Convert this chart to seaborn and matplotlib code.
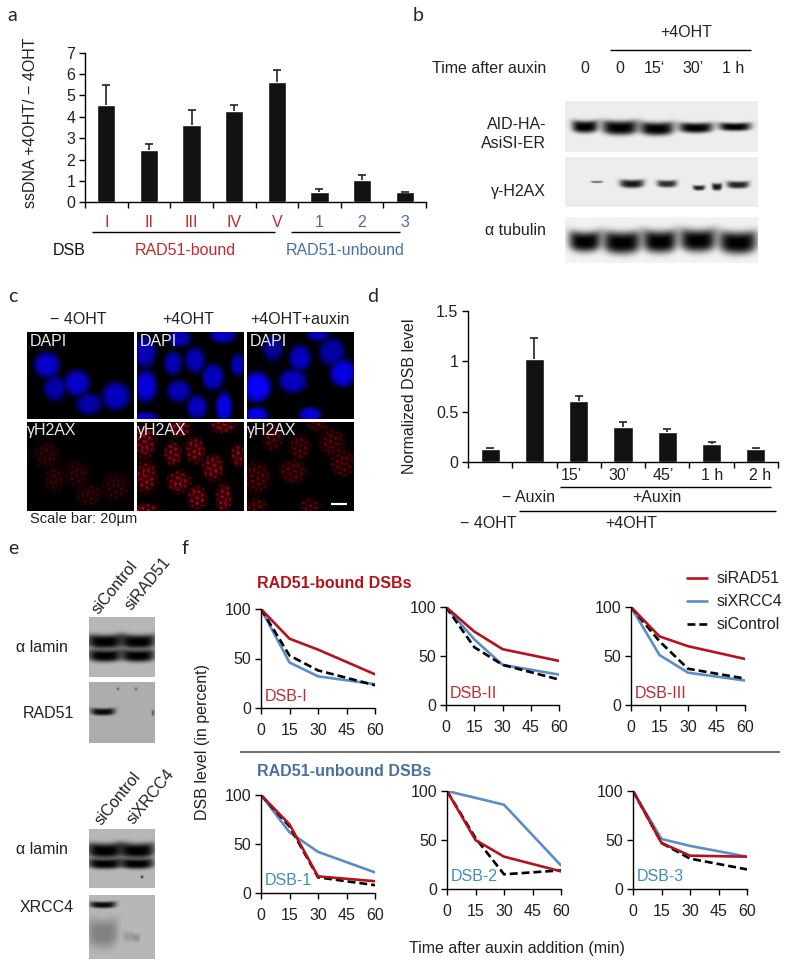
import numpy as np
import pandas as pd
import seaborn as sns
import matplotlib
from matplotlib import pyplot as plt
from matplotlib.lines import Line2D
matplotlib.use('Agg')

sns.set_theme(style="ticks")
plt.rcParams['font.family'] = ['Liberation Sans', 'DejaVu Sans']
plt.rcParams['font.size'] = 11.5

# panel a
a_cats = ["I", "II", "III", "IV", "V", "1", "2", "3"]
a_vals = [4.55, 2.45, 3.6, 4.25, 5.65, 0.5, 1.05, 0.5]
a_err = [0.95, 0.3, 0.7, 0.32, 0.55, 0.1, 0.25, 0.0]
# panel d
d_cats = ["- 4OHT", "- Auxin", "15", "30", "45", "1 h", "2 h"]
d_vals = [0.13, 1.02, 0.61, 0.35, 0.30, 0.18, 0.13]
d_err = [0.01, 0.21, 0.05, 0.05, 0.03, 0.02, 0.01]
# panel f
f_time = [0, 15, 30, 60]
f_rad51 = {"DSB-I": [100, 70, 59, 34], "DSB-II": [100, 75, 57, 45], "DSB-III": [100, 70, 60, 47],
           "DSB-1": [100, 70, 17, 12], "DSB-2": [100, 50, 33, 18], "DSB-3": [100, 47, 34, 33]}
f_xrcc4 = {"DSB-I": [100, 46, 32, 24], "DSB-II": [100, 67, 41, 31], "DSB-III": [100, 51, 33, 25],
           "DSB-1": [100, 62, 42, 21], "DSB-2": [100, 93, 86, 24], "DSB-3": [100, 51, 44, 33]}
f_control = {"DSB-I": [100, 53, 38, 23], "DSB-II": [100, 59, 41, 26], "DSB-III": [100, 65, 37, 27],
             "DSB-1": [100, 68, 16, 8], "DSB-2": [100, 52, 15, 19], "DSB-3": [100, 47, 31, 20]}

RED = "#B5121B"
LABEL_RED = "#C22A32"
BLUE = "#5B8DC9"
STEEL = "#4A6FA5"
BAR = "#111111"

fig = plt.figure(figsize=(8, 9.69), dpi=100)
ov = fig.add_axes([0, 0, 1, 1], zorder=0)


def px_ax(x0, y0, x1, y1):
    ax = fig.add_axes([x0 / 800, 1 - y1 / 969, (x1 - x0) / 800, (y1 - y0) / 969], zorder=1)
    ax.patch.set_alpha(0)
    return ax


def txt(x, y, s, ha="left", **kw):
    ov.text(x, y, s, ha=ha, va="center", **kw)


def rule(x0, x1, y, color="black", lw=1.0):
    ov.plot([x0, x1], [y, y], color=color, lw=lw, solid_capstyle="butt")


def grid(box):
    x0, x1, y0, y1 = box
    return np.meshgrid(np.arange(x0, x1) + 0.5, np.arange(y0, y1) + 0.5)


def blot(box, bg, bands):
    xx, yy = grid(box)
    arr = np.full(xx.shape, bg, dtype=float)
    for cx, cy, rx, ry, s in bands:
        dx = (xx - cx) / rx
        dy = (yy - cy + 0.25 * ry * dx ** 2) / ry
        arr *= 1 - s * np.exp(-np.abs(dx) ** 4) * np.exp(-np.abs(dy) ** 3)
    ov.imshow(arr, cmap="gray", vmin=0, vmax=1, extent=(box[0], box[1], box[3], box[2]), aspect="auto")


def cells(box, nuclei, channel):
    xx, yy = grid(box)
    val = np.zeros(xx.shape)
    for cx, cy, rx, ry, b in nuclei:
        d = ((xx - cx) / (rx + 1)) ** 2 + ((yy - cy) / (ry + 1)) ** 2
        val = np.maximum(val, b * np.exp(-d ** 2.5))
    rgb = np.zeros(xx.shape + (3,))
    if channel == "blue":
        rgb[..., 2] = val
        rgb[..., 0] = 0.03 * val
    else:
        tex = (np.sin(0.83 * xx + 0.37 * yy) * np.sin(0.71 * yy - 0.29 * xx)
               + 0.6 * np.sin(0.47 * xx - 1.13 * yy) + 0.5 * np.sin(1.31 * xx + 0.19 * yy))
        tex = np.clip(tex, 0, 1) ** 1.5
        rgb[..., 0] = val * (0.2 + 0.5 * tex)
        rgb[..., 2] = 0.15 * rgb[..., 0]
    ov.imshow(rgb, extent=(box[0], box[1], box[3], box[2]), aspect="auto")


def bars(ax, cats, vals, err):
    sns.barplot(x=cats, y=vals, color=BAR, saturation=1, width=0.43, ax=ax, order=cats)
    top = np.array(vals) + np.array(err)
    ax.vlines(range(len(cats)), vals, top, color="#222222", lw=1.2)
    ax.plot(range(len(cats)), top, ls="", marker="_", ms=6, mew=1.2, color="#222222")
    ax.set_xlim(-0.5, len(cats) - 0.5)
    ax.set_xticks(np.arange(len(cats) + 1) - 0.5, minor=True)
    ax.tick_params(axis="x", which="minor", length=4, width=1, color="black")
    ax.tick_params(axis="y", length=4, width=1, color="black", labelsize=11.5, labelcolor="#222222", pad=3)
    sns.despine(ax=ax)
    for s in ["left", "bottom"]:
        ax.spines[s].set_color("black")
        ax.spines[s].set_linewidth(1)


# a
txt(7, 15, "a", family="Lato", fontsize=14)
ax = px_ax(85, 52.7, 426, 202.3)
bars(ax, a_cats, a_vals, a_err)
ax.set_ylim(0, 7)
ax.set_yticks(range(8))
ax.tick_params(axis="x", which="major", length=0, pad=9, labelsize=11.5)
for i, lab in enumerate(ax.get_xticklabels()):
    lab.set_color(LABEL_RED if i < 5 else STEEL)
txt(31, 123, "ssDNA +4OHT/ \u2212 4OHT", ha="center", rotation=90, color="#222222")
txt(53, 250, "DSB", color="#111111")
txt(185, 250, "RAD51-bound", ha="center", color=LABEL_RED)
txt(345, 250, "RAD51-unbound", ha="center", color=STEEL)
rule(92, 275, 232)
rule(291, 400, 232)

# b
txt(413, 15, "b", family="Lato", fontsize=14)
txt(686, 32, "+4OHT", ha="center", color="#222222")
rule(610, 751, 50)
txt(546, 68, "Time after auxin", ha="right", color="#222222")
for x, s in zip([585, 620, 654, 693, 733], ["0", "0", "15\u2018", "30\u2019", "1 h"]):
    txt(x, 68, s, ha="center", color="#222222")
for y, s in zip([124, 143, 191, 230], ["AID-HA-", "AsiSI-ER", "\u03b3-H2AX", "\u03b1 tubulin"]):
    txt(546, y, s, ha="right", color="#222222")
blot((565, 758, 101, 152), 0.93, [(585, 127, 13, 6, 1), (620, 128, 18, 7, 1), (657, 129, 17, 6.5, 1),
                                  (696, 128, 17, 5, 1), (735, 127, 16, 4, 1)])
blot((565, 758, 157, 207), 0.93, [(597, 182, 6, 1.2, 0.5), (632, 184, 12, 4, 0.9), (667, 184, 10, 3.5, 0.8),
                                  (699, 188, 6, 2.5, 0.85), (717, 187, 5, 3.5, 0.9), (738, 185, 11, 3.5, 0.85)])
blot((565, 758, 217, 263), 0.95, [(585, 242, 16, 10, 1), (622, 243, 19, 11, 1), (660, 242, 17, 11, 1),
                                  (698, 241, 18, 11, 1), (738, 243, 19, 11, 1)])

# c
txt(8, 296, "c", family="Lato", fontsize=14)
txt(78, 319, "\u2212 4OHT", ha="center", color="#222222")
txt(188, 319, "+4OHT", ha="center", color="#222222")
txt(300, 319, "+4OHT+auxin", ha="center", color="#222222")
col_boxes = [(27, 134), (137, 244), (247, 354)]
col_nuclei = [
    [(47, 365, 12, 12, .8), (55, 388, 10, 12, .65), (77, 383, 12, 12, .8), (89, 404, 12, 10, .65), (116, 396, 13, 13, .75)],
    [(145, 352, 10, 15, .7), (173, 363, 8, 11, .7), (195, 360, 9, 12, .7), (213, 377, 10, 12, .75), (238, 365, 6, 10, .7),
     (146, 386, 10, 15, .85), (179, 391, 11, 10, .7), (197, 407, 9, 11, .75), (224, 407, 7, 14, .9), (145, 419, 13, 6, .8),
     (180, 338, 10, 8, .7), (223, 335, 12, 7, .75)],
    [(273, 348, 9, 12, .6), (300, 358, 10, 12, .75), (332, 352, 12, 13, .65), (343, 373, 12, 13, .9), (293, 381, 13, 11, .75),
     (257, 387, 13, 14, 1.0), (257, 415, 10, 7, .9), (310, 415, 10, 7, .85), (318, 335, 10, 5, .7)],
]
col_red = [0.4, 1.0, 0.6]
for (x0, x1), nuc, rd in zip(col_boxes, col_nuclei, col_red):
    cells((x0, x1, 332, 419), nuc, "blue")
    cells((x0, x1, 423, 511), [(n[0], n[1] + 91, n[2], n[3], rd) for n in nuc], "red")
    txt(x0 + 3, 342, "DAPI", color="#E8E8E8")
    txt(x0, 431, "\u03b3H2AX", color="#E8E8E8")
rule(331, 347, 504, color="white", lw=1.6)
txt(30, 519, "Scale bar: 20\u00b5m", color="#222222", fontsize=10.5)

# d
txt(367, 296, "d", family="Lato", fontsize=14)
ax = px_ax(468, 311, 778, 462)
bars(ax, d_cats, d_vals, d_err)
ax.set_ylim(0, 1.5)
ax.set_yticks([0, 0.5, 1, 1.5], ["0", "0.5", "1", "1.5"])
ax.set_xticks([])
txt(410, 396, "Normalized DSB level", ha="center", rotation=90, color="#222222")
for x, s in zip([571, 619, 663, 712, 760], ["15\u2019", "30\u2019", "45\u2019", "1 h", "2 h"]):
    txt(x, 475, s, ha="center", color="#222222")
rule(560, 771, 487)
txt(529, 497, "\u2212 Auxin", ha="center", color="#222222")
txt(657, 497, "+Auxin", ha="center", color="#222222")
rule(519, 776, 511)
txt(488, 523, "\u2212 4OHT", ha="center", color="#222222")
txt(631, 523, "+4OHT", ha="center", color="#222222")

# e
txt(8, 549, "e", family="Lato", fontsize=14)
txt(182, 549, "f", family="Lato", fontsize=14)
for x, y, s in [(95, 612, "siControl"), (128, 608, "siRAD51"), (98, 823, "siControl"), (130, 822, "siXRCC4")]:
    ov.text(x, y, s, rotation=51, rotation_mode="anchor", ha="left", va="center", color="#222222")
for x, y, s in [(16, 648, "\u03b1 lamin"), (23, 713, "RAD51"), (16, 850, "\u03b1 lamin"), (20, 908, "XRCC4")]:
    txt(x, y, s, color="#222222")
blot((89, 155, 617, 677), 0.72, [(105, 642, 18, 7, 1), (138, 642, 18, 7, 1), (105, 656, 17, 6, 1), (138, 656, 17, 6, 1)])
blot((89, 155, 682, 743), 0.68, [(103, 712, 12, 3.5, 0.95), (118, 689, 1.5, 1.5, 0.35), (136, 689, 1.5, 1.5, 0.35), (153, 713, 1.5, 3, 0.4)])
blot((89, 155, 829, 888), 0.72, [(105, 851, 18, 7.5, 1), (137, 851, 18, 7.5, 1), (105, 864, 17, 5, 1), (137, 864, 17, 5, 1), (142, 877, 1.5, 1.5, 0.6)])
blot((89, 155, 895, 959), 0.72, [(103, 905, 13, 3.2, 0.95), (103, 934, 15, 14, 0.3), (128, 937, 5, 5, 0.15), (136, 938, 4, 4, 0.2)])

# f
txt(257, 583, "RAD51-bound DSBs", color=RED, fontweight="bold", fontsize=11.5)
txt(257, 771, "RAD51-unbound DSBs", color=STEEL, fontweight="bold", fontsize=11.5)
rule(240, 780, 752, color="#555555", lw=1.2)
txt(203, 742, "DSB level (in percent)", ha="center", rotation=90, color="#222222")
txt(517, 948, "Time after auxin addition (min)", ha="center", color="#222222")

f_panels = ["DSB-I", "DSB-II", "DSB-III", "DSB-1", "DSB-2", "DSB-3"]
f_boxes = [(261, 609, 375, 708), (446, 607, 559, 705), (631, 607, 745, 705),
           (261, 795, 375, 893), (447, 791, 561, 889), (633, 791, 747, 889)]
f_styles = [("siXRCC4", f_xrcc4, BLUE, ""), ("siControl", f_control, "black", (3, 1.5)), ("siRAD51", f_rad51, RED, "")]
for name, box in zip(f_panels, f_boxes):
    ax = px_ax(*box)
    rows = []
    for series, vals, col, dash in f_styles:
        rows.append(pd.DataFrame({"time": f_time, "level": vals[name], "series": series}))
    df = pd.concat(rows)
    sns.lineplot(data=df, x="time", y="level", hue="series", style="series",
                 hue_order=[s[0] for s in f_styles], style_order=[s[0] for s in f_styles],
                 palette={s[0]: s[2] for s in f_styles}, dashes={s[0]: s[3] for s in f_styles},
                 estimator=None, lw=1.9, legend=False, ax=ax)
    ax.set_xlim(0, 60)
    ax.set_ylim(0, 100)
    ax.set_xticks([0, 15, 30, 45, 60])
    ax.set_yticks([0, 50, 100])
    ax.set_xlabel("")
    ax.set_ylabel("")
    ax.tick_params(length=4, width=1, color="black", labelsize=11.5, labelcolor="#222222", pad=3)
    ax.tick_params(axis="x", pad=7)
    sns.despine(ax=ax)
    for s in ["left", "bottom"]:
        ax.spines[s].set_color("black")
        ax.spines[s].set_linewidth(1)
    lab_col = LABEL_RED if name in f_panels[:3] else "#3E8CC4"
    ax.text(2, 12 if name in f_panels[:3] else 13, name, color=lab_col, va="center", fontsize=11.5)
    if name == "DSB-III":
        handles = [Line2D([], [], color=s[2], lw=1.9, dashes=s[3] if s[3] else (None, None)) for s in [f_styles[2], f_styles[0], f_styles[1]]]
        ax.legend(handles, ["siRAD51", "siXRCC4", "siControl"], frameon=False, loc="upper left",
                  bbox_to_anchor=(673 / 800, 1 - 557 / 969), bbox_transform=fig.transFigure,
                  handlelength=1.25, handletextpad=0.55, labelspacing=0.5, fontsize=11.5, labelcolor="#222222")

ov.set_xlim(0, 800)
ov.set_ylim(969, 0)
ov.axis("off")

fig.savefig("out.png", dpi=100)
